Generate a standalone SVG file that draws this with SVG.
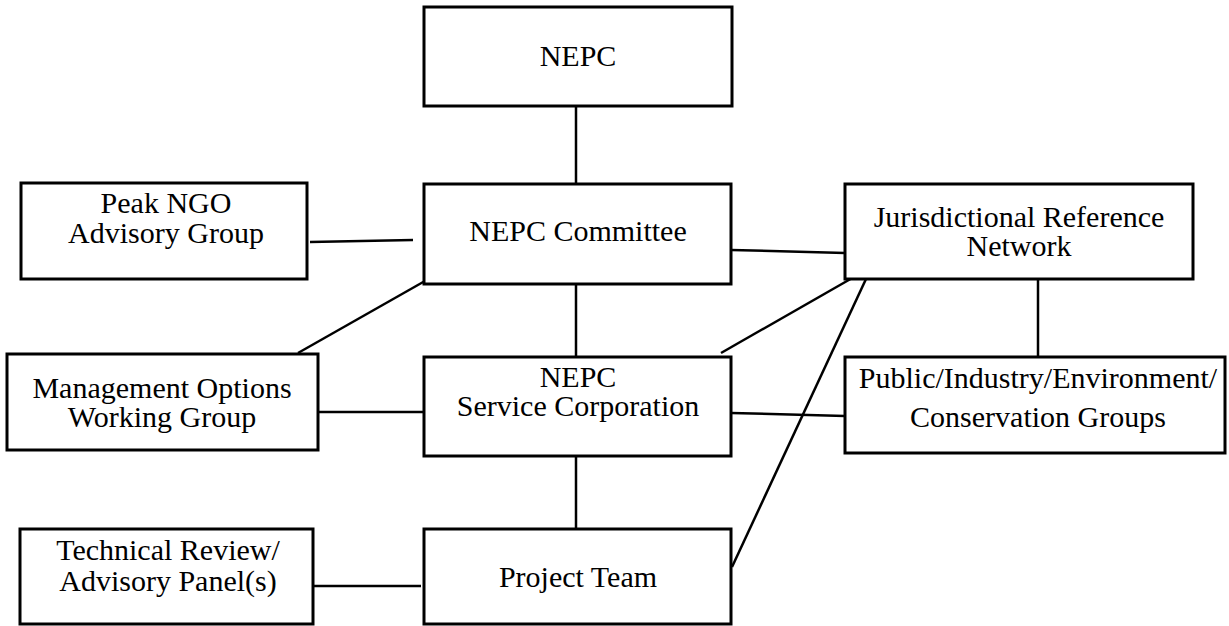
<svg xmlns="http://www.w3.org/2000/svg" width="1229" height="626" viewBox="0 0 1229 626">
<style>
.box{fill:#fff;stroke:#000;stroke-width:3}
.ln{stroke:#000;stroke-width:2.5;fill:none}
text{font-family:"Liberation Serif","Times New Roman",serif;font-size:30px;fill:#000;text-anchor:middle}
</style>
<rect width="1229" height="626" fill="#fff"/>
<g id="connectors">
<line class="ln" x1="576" y1="106" x2="576" y2="184"/>
<line class="ln" x1="310" y1="242" x2="413" y2="240"/>
<line class="ln" x1="298" y1="353" x2="432" y2="277"/>
<line class="ln" x1="319" y1="412" x2="429" y2="412"/>
<line class="ln" x1="576" y1="280" x2="576" y2="357"/>
<line class="ln" x1="731" y1="250" x2="845" y2="253"/>
<line class="ln" x1="721" y1="353" x2="854" y2="277"/>
<line class="ln" x1="732" y1="567" x2="866" y2="279"/>
<line class="ln" x1="1038" y1="279" x2="1038" y2="357"/>
<line class="ln" x1="731" y1="413" x2="845" y2="416"/>
<line class="ln" x1="576" y1="453" x2="576" y2="529"/>
<line class="ln" x1="311" y1="586" x2="421" y2="586"/>
</g>
<g id="nepc">
<rect class="box" x="424" y="7" width="308" height="99"/>
<text x="578" y="66">NEPC</text>
</g>
<g id="committee">
<rect class="box" x="424" y="184" width="307" height="100"/>
<text x="578" y="241">NEPC Committee</text>
</g>
<g id="peak">
<rect class="box" x="21" y="183" width="286" height="96"/>
<text x="166" y="213">Peak NGO</text>
<text x="166" y="243">Advisory Group</text>
</g>
<g id="mowg">
<rect class="box" x="7" y="354" width="311" height="96"/>
<text x="162" y="398">Management Options</text>
<text x="162" y="427">Working Group</text>
</g>
<g id="service">
<rect class="box" x="424" y="357" width="307" height="99"/>
<text x="578" y="387">NEPC</text>
<text x="578" y="416">Service Corporation</text>
</g>
<g id="jrn">
<rect class="box" x="845" y="184" width="348" height="95"/>
<text x="1019" y="227">Jurisdictional Reference</text>
<text x="1019" y="256">Network</text>
</g>
<g id="public">
<rect class="box" x="845" y="357" width="380" height="96"/>
<text x="1038" y="388">Public/Industry/Environment/</text>
<text x="1038" y="427">Conservation Groups</text>
</g>
<g id="tech">
<rect class="box" x="20" y="529" width="293" height="95"/>
<text x="168" y="560">Technical Review/</text>
<text x="168" y="591">Advisory Panel(s)</text>
</g>
<g id="project">
<rect class="box" x="424" y="529" width="307" height="95"/>
<text x="578" y="587">Project Team</text>
</g>
</svg>
